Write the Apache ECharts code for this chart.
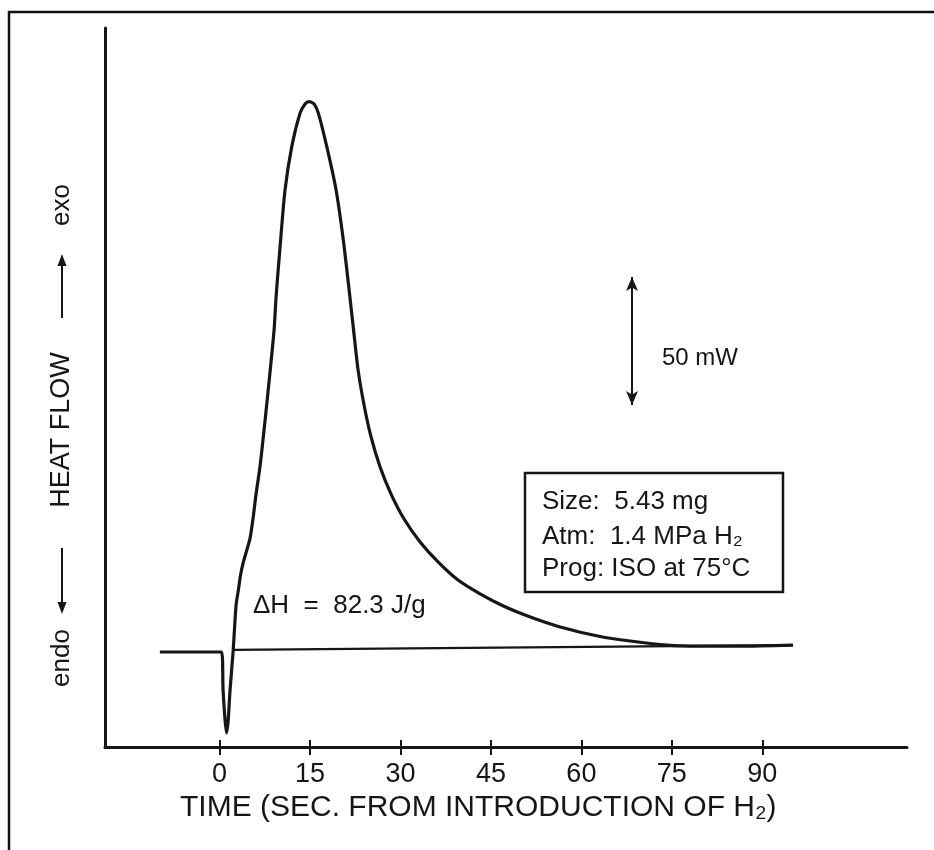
<!DOCTYPE html>
<html><head><meta charset="utf-8">
<script src="https://cdn.jsdelivr.net/npm/echarts@6/dist/echarts.min.js"></script>
<style>html,body{margin:0;padding:0;background:#fff}#c{width:934px;height:850px}</style>
</head><body><div id="c"></div>
<script>
const FONT = '"Liberation Sans", Arial, Helvetica, sans-serif';
const INK = '#161616';

// x tick labels (seconds)
const tickValues = [0, 15, 30, 45, 60, 75, 90];

// DSC trace: time (s) and heat flow (mW, relative to initial baseline)
const traceTime = [-9.9, 0.33, 0.58, 0.91, 1.16, 1.41, 1.74, 2.24, 2.74, 3.12, 3.48, 3.95, 4.48, 5.06, 5.56, 6.05, 6.72, 7.55, 8.37, 9.04, 9.37, 10.03, 10.86, 11.97, 13.35, 14.18, 14.84, 15.67, 16.38, 17.78, 19.32, 20.48, 21.39, 22.22, 22.97, 23.96, 25.12, 26.62, 28.44, 30.6, 33.25, 36.23, 39.55, 43.2, 47.06, 51.54, 56.5, 63.1, 68.1, 74.2, 79.7, 86.3, 95.1];
const traceHeat = [0, 0, -14.8, -26.6, -31.6, -27.3, -14.8, 0, 18.4, 24.2, 30.1, 35.2, 39.5, 44.5, 52.3, 61.7, 72.7, 90.6, 109.4, 125.8, 138.7, 158.2, 180.5, 197.4, 210.5, 214.1, 215.0, 214.1, 210.5, 197.4, 180.5, 161.7, 143.4, 125.8, 110.2, 96.5, 84.0, 72.3, 61.7, 51.95, 43.0, 35.2, 28.1, 22.7, 18.0, 13.7, 9.8, 6.05, 4.3, 2.7, 2.3, 2.3, 2.7];

// interpolated baseline under the peak
const baselineTime = [2.24, 95.1];
const baselineHeat = [0.8, 2.7];

// 50 mW scale bar
const scaleBarTime = 68.4;
const scaleBarHeat = [96.5, 146.5];

const zip = (a, b) => a.map((v, i) => [v, b[i]]);

const chart = echarts.init(document.getElementById('c'), null, {renderer: 'canvas'});
const txt = (x, y, text, size, extra) => Object.assign({
  type: 'text', x: x, y: y,
  style: Object.assign({text: text, fill: INK, font: size + 'px ' + FONT, textAlign: 'left', textVerticalAlign: 'middle'}, extra || {})
});

const option = {
  animation: false,
  backgroundColor: '#fff',
  grid: {left: 105, right: 27, top: 28, bottom: 103},
  xAxis: [{
    type: 'value', min: -19, max: 114,
    axisLine: {onZero: false, lineStyle: {color: INK, width: 3}},
    axisTick: {customValues: tickValues, length: 8, lineStyle: {color: INK, width: 2}},
    axisLabel: {customValues: tickValues, fontSize: 27, color: INK, margin: 14, fontFamily: FONT},
    splitLine: {show: false}
  }, {
    type: 'value', min: -19, max: 114, position: 'bottom',
    axisLine: {show: false, onZero: false},
    axisTick: {customValues: tickValues, inside: true, length: 7, lineStyle: {color: INK, width: 2}},
    axisLabel: {show: false},
    splitLine: {show: false}
  }],
  yAxis: {
    type: 'value', min: -37.1, max: 243.75,
    axisLine: {show: true, onZero: false, lineStyle: {color: INK, width: 3}},
    axisTick: {show: false}, axisLabel: {show: false}, splitLine: {show: false}
  },
  series: [{
    type: 'line', data: zip(traceTime, traceHeat), showSymbol: false,
    smooth: 0.25,
    lineStyle: {color: INK, width: 3.2}, z: 3
  }, {
    type: 'line', data: zip(baselineTime, baselineHeat), showSymbol: false,
    lineStyle: {color: INK, width: 2.3}, z: 2,
    markLine: {
      silent: true, symbol: ['arrow', 'arrow'], symbolSize: [9, 14],
      lineStyle: {color: INK, width: 2, type: 'solid'}, label: {show: false},
      data: [[{coord: [scaleBarTime, scaleBarHeat[0]]}, {coord: [scaleBarTime, scaleBarHeat[1]]}]]
    }
  }],
  graphic: [
    {type: 'line', shape: {x1: 8, y1: 12, x2: 934, y2: 12}, style: {stroke: '#111', lineWidth: 2.5}},
    {type: 'line', shape: {x1: 9, y1: 11, x2: 9, y2: 850}, style: {stroke: '#111', lineWidth: 2.5}},
    {type: 'rect', shape: {x: 525, y: 473, width: 258, height: 119}, style: {fill: 'none', stroke: INK, lineWidth: 2.5}},
    txt(542, 502, 'Size:  5.43 mg', 26),
    txt(542, 537, 'Atm:  1.4 MPa H\u2082', 26),
    txt(542, 569, 'Prog: ISO at 75\u00b0C', 26),
    txt(662, 358, '50 mW', 24),
    txt(253, 606, '\u0394H  =  82.3 J/g', 26),
    txt(180, 808, 'TIME (SEC. FROM INTRODUCTION OF H\u2082)', 30),
    {
      type: 'group', x: 62, y: 440, rotation: Math.PI / 2,
      children: [
        txt(-218, 0, 'endo', 26, {textAlign: 'center'}),
        {type: 'line', shape: {x1: -108, y1: 0, x2: -166, y2: 0}, style: {stroke: INK, lineWidth: 2}},
        {type: 'polygon', shape: {points: [[-174, 0], [-162, -4.5], [-162, 4.5]]}, style: {fill: INK}},
        txt(10, 0, 'HEAT FLOW', 27, {textAlign: 'center'}),
        {type: 'line', shape: {x1: 122, y1: 0, x2: 178, y2: 0}, style: {stroke: INK, lineWidth: 2}},
        {type: 'polygon', shape: {points: [[186, 0], [174, -4.5], [174, 4.5]]}, style: {fill: INK}},
        txt(235, 0, 'exo', 26, {textAlign: 'center'})
      ]
    }
  ]
};
chart.setOption(option);
</script>
</body></html>
